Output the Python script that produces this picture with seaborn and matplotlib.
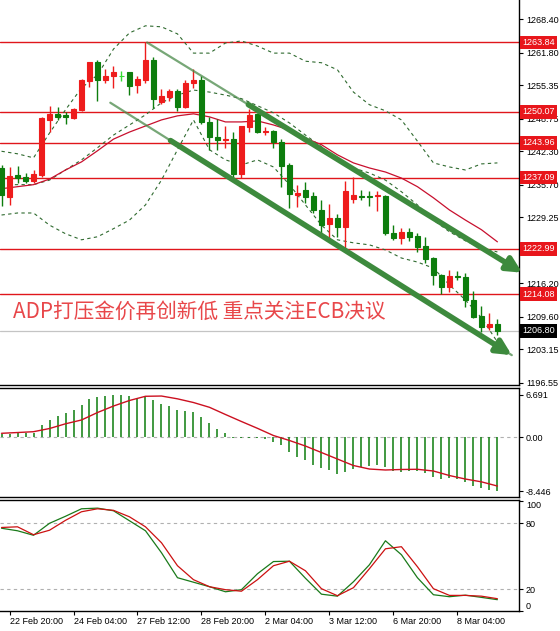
import numpy as np
import pandas as pd
import matplotlib
matplotlib.use("Agg")
import matplotlib.pyplot as plt
import seaborn as sns

sns.set_theme(style="white")
plt.rcParams['font.family'] = ['Liberation Sans', 'DejaVu Sans']

# ---- H4 candles (gold) ----
opens = [1238.9, 1233.3, 1237.6, 1237.2, 1236.5, 1237.6, 1248.5, 1249.7, 1249.4, 1248.8,
         1250.5, 1256.1, 1260.0, 1256.4, 1257.2, 1257.1, 1257.9, 1255.3, 1256.4, 1260.4,
         1252.1, 1253.1, 1254.3, 1251.0, 1255.8, 1256.4, 1248.1, 1245.2, 1244.5, 1244.7,
         1237.9, 1247.1, 1249.7, 1246.2, 1246.4, 1244.2, 1239.6, 1233.7, 1234.6, 1233.5,
         1230.7, 1227.9, 1229.2, 1227.3, 1232.8, 1233.5, 1233.5, 1233.4, 1233.5, 1226.2,
         1225.1, 1226.4, 1225.6, 1223.6, 1221.3, 1217.9, 1215.5, 1217.7, 1217.4, 1213.0,
         1209.7, 1207.5, 1208.2]
highs = [1239.5, 1239.1, 1239.3, 1238.0, 1238.5, 1249.0, 1251.3, 1251.1, 1250.1, 1250.9,
         1256.5, 1260.0, 1260.4, 1258.5, 1259.2, 1258.2, 1258.0, 1257.1, 1263.84, 1260.9,
         1254.6, 1254.6, 1254.6, 1256.4, 1258.5, 1257.1, 1249.1, 1248.7, 1247.3, 1246.1,
         1247.2, 1250.6, 1249.9, 1247.0, 1246.6, 1244.7, 1239.9, 1235.6, 1236.3, 1234.3,
         1232.7, 1231.9, 1229.9, 1236.5, 1237.2, 1234.7, 1234.5, 1234.5, 1233.6, 1227.7,
         1227.1, 1227.1, 1226.2, 1225.4, 1221.4, 1218.0, 1218.8, 1218.7, 1218.3, 1214.7,
         1211.7, 1210.3, 1209.1]
lows = [1231.4, 1231.7, 1236.0, 1236.0, 1236.1, 1237.2, 1246.2, 1248.4, 1247.7, 1248.7,
        1250.3, 1255.1, 1252.3, 1255.8, 1254.9, 1256.1, 1253.4, 1253.8, 1255.8, 1250.8,
        1251.7, 1252.3, 1250.3, 1250.8, 1254.9, 1247.7, 1242.6, 1242.6, 1242.9, 1237.1,
        1237.0, 1246.2, 1245.9, 1245.5, 1242.9, 1235.3, 1231.0, 1231.2, 1232.0, 1230.0,
        1226.0, 1224.8, 1225.4, 1223.0, 1232.0, 1232.7, 1231.4, 1230.4, 1225.8, 1224.8,
        1224.0, 1224.6, 1222.3, 1220.2, 1215.9, 1214.1, 1214.5, 1216.8, 1211.5, 1209.3,
        1206.6, 1207.0, 1206.0]
closes = [1233.7, 1237.4, 1237.0, 1236.5, 1237.8, 1248.8, 1249.7, 1249.1, 1249.0, 1250.6,
          1256.3, 1259.9, 1256.4, 1257.1, 1257.9, 1257.1, 1255.2, 1256.6, 1260.4, 1252.6,
          1253.2, 1254.3, 1251.0, 1255.8, 1256.4, 1248.1, 1245.1, 1244.5, 1244.8, 1237.8,
          1247.2, 1249.4, 1246.2, 1246.4, 1244.1, 1239.3, 1233.9, 1234.1, 1233.3, 1230.6,
          1227.7, 1229.2, 1227.3, 1234.5, 1233.7, 1233.3, 1233.2, 1233.6, 1226.1, 1225.1,
          1226.4, 1225.4, 1223.4, 1221.1, 1217.9, 1215.5, 1217.7, 1217.4, 1212.9, 1209.6,
          1207.6, 1208.2, 1206.8]

# indicator lines, read every second candle
line_idx = list(range(0, 63, 2))
ma_red = [1234.9, 1235.3, 1235.7, 1236.8, 1238.6, 1240.2, 1242.4, 1244.7, 1246.1, 1247.3,
          1248.5, 1249.3, 1249.7, 1249.1, 1248.1, 1248.1, 1248.3, 1247.5, 1246.5, 1244.9,
          1243.6, 1241.6, 1240.0, 1239.0, 1238.2, 1237.0, 1235.3, 1233.1, 1230.7, 1228.7,
          1226.8, 1224.4]
bb_upper = [1242.3, 1241.8, 1241.0, 1245.9, 1250.5, 1254.8, 1257.4, 1262.5, 1265.7, 1267.1,
            1266.9, 1265.5, 1261.7, 1261.7, 1263.7, 1264.1, 1263.1, 1261.7, 1261.7, 1260.1,
            1259.8, 1258.4, 1254.0, 1251.5, 1250.3, 1248.5, 1244.3, 1240.0, 1239.2, 1238.6,
            1239.8, 1240.0]
bb_mid = [1235.7, 1235.7, 1235.7, 1236.6, 1238.6, 1240.6, 1243.0, 1245.5, 1247.5, 1249.5,
          1251.9, 1253.4, 1254.4, 1254.0, 1253.4, 1252.7, 1251.3, 1249.9, 1247.9, 1245.5,
          1243.2, 1240.6, 1239.0, 1238.0, 1236.6, 1234.3, 1231.7, 1228.7, 1226.4, 1224.6,
          1223.2, 1222.4]
bb_lower = [1229.7, 1230.1, 1230.1, 1227.7, 1226.0, 1224.8, 1225.4, 1227.0, 1228.7, 1231.7,
            1236.6, 1242.6, 1248.5, 1242.6, 1240.6, 1239.6, 1240.6, 1239.2, 1235.7, 1231.7,
            1227.7, 1224.8, 1224.2, 1223.8, 1222.8, 1221.2, 1220.4, 1219.2, 1215.9, 1212.9,
            1209.4, 1204.6]

levels = [1263.84, 1250.07, 1243.96, 1237.09, 1222.99, 1214.08]
last_price = 1206.80
price_ticks = [1268.40, 1261.80, 1255.35, 1248.75, 1242.30, 1235.70, 1229.25, 1222.65,
               1216.20, 1209.60, 1203.15, 1196.55]

# channel lines (candle index, price)
trend_upper = [(18.2, 1263.8), (65.1, 1218.3)]
trend_lower = [(13.6, 1251.9), (63.8, 1202.0)]

# ---- MACD ----
macd_hist = [0.52, 0.47, 0.63, 0.63, 0.63, 1.94, 2.72, 3.35, 3.77, 4.29,
             5.08, 5.97, 6.39, 6.49, 6.60, 6.69, 6.50, 6.12, 6.39, 5.86,
             5.23, 4.92, 4.29, 4.19, 4.03, 3.14, 2.30, 1.26, 0.73, -0.05,
             -0.15, -0.10, -0.15, -0.30, -0.68, -1.20, -2.25, -3.03, -3.56, -4.34,
             -4.87, -5.13, -5.76, -5.39, -5.02, -4.71, -4.50, -4.34, -4.71, -5.23,
             -5.39, -5.23, -5.23, -5.65, -6.17, -6.59, -6.44, -6.59, -6.96, -7.64,
             -8.00, -8.20, -8.45]
macd_signal = [0.63, 0.75, 0.88, 1.38, 2.12, 2.72, 3.89, 4.91, 5.78, 6.44,
               6.48, 6.04, 5.46, 4.71, 3.58, 2.48, 1.41, 0.28, -0.50, -1.37,
               -2.39, -3.41, -4.43, -4.98, -5.13, -5.05, -5.02, -5.29, -6.00, -6.55,
               -6.99, -7.65]

# ---- Stochastic ----
stoch_k = [75.3, 73.0, 68.9, 79.8, 86.2, 93.0, 93.6, 91.2, 82.1, 73.0,
           53.0, 30.3, 26.2, 22.1, 17.5, 19.4, 33.9, 45.0, 45.3, 29.8,
           15.3, 13.5, 26.6, 42.1, 63.9, 51.2, 30.3, 14.8, 13.0, 14.4,
           12.4, 10.3]
stoch_d = [76.0, 76.6, 69.4, 73.5, 82.5, 90.3, 93.0, 91.6, 85.7, 76.6,
           62.1, 41.2, 28.5, 22.1, 19.4, 18.0, 28.5, 41.2, 45.3, 36.6,
           20.3, 13.9, 21.2, 38.5, 56.6, 58.5, 40.3, 20.3, 14.2, 14.2,
           13.5, 11.2]

time_idx = [1, 9, 17, 25, 33, 41, 49, 57]
time_labels = ["22 Feb 20:00", "24 Feb 04:00", "27 Feb 12:00", "28 Feb 20:00",
               "2 Mar 04:00", "3 Mar 12:00", "6 Mar 20:00", "8 Mar 04:00"]

RED = "#ee1c1c"
GREEN = "#0d7d0d"
LIME = "#33dd33"
LEVEL_RED = "#e0161b"

df = pd.DataFrame({"o": opens, "h": highs, "l": lows, "c": closes})
df["x"] = np.arange(len(df))
df["color"] = np.where(df.c > df.o, RED, np.where(df.c < df.o, GREEN, LIME))

W, H = 560, 631
fig = plt.figure(figsize=(W / 100, H / 100), dpi=100)


def panel(top, bottom):
    return fig.add_axes([0, 1 - bottom / H, 519 / W, (bottom - top) / H])


ax = panel(0, 385)
ax_macd = panel(388, 497)
ax_sto = panel(500, 611)

for a in (ax, ax_macd, ax_sto):
    a.set_facecolor("white")
    a.set_xlim(-0.19, 64.7)
    a.spines["left"].set_visible(False)
    for s in ("right", "bottom", "top"):
        a.spines[s].set_color("black")
        a.spines[s].set_linewidth(1.0)
    a.yaxis.tick_right()
    a.tick_params(axis="y", direction="out", length=3, width=0.8, labelsize=6.5,
                  pad=2, colors="black", right=True, left=False)
    a.tick_params(axis="x", bottom=False, labelbottom=False)
    a.grid(False)
ax.spines["top"].set_visible(False)

# ---- main price panel ----
ax.set_ylim(1196.1, 1272.2)
ax.set_yticks(price_ticks)
# the 1222.65 label sits under the 1222.99 level box in the original
ax.set_yticklabels(["" if v == 1222.65 else f"{v:.2f}" for v in price_ticks])

for lvl in levels:
    ax.axhline(lvl, color=LEVEL_RED, lw=1.0, zorder=1)
ax.axhline(last_price, color="#c4c4c4", lw=0.9, zorder=1)

sns.lineplot(x=line_idx, y=bb_upper, ax=ax, color="#2f6a2f", lw=0.8, linestyle=(0, (3, 3)))
sns.lineplot(x=line_idx, y=bb_mid, ax=ax, color="#2f6a2f", lw=0.8, linestyle=(0, (3, 3)))
sns.lineplot(x=line_idx, y=bb_lower, ax=ax, color="#2f6a2f", lw=0.8, linestyle=(0, (3, 3)))
sns.lineplot(x=line_idx, y=ma_red, ax=ax, color="#c8102e", lw=0.9)

ax.vlines(df.x, df.l, df.h, colors=df.color, lw=1.0, zorder=3)
ax.bar(df.x, (df.c - df.o).abs(), bottom=df[["o", "c"]].min(axis=1), width=0.55,
       color=df.color, edgecolor=df.color, linewidth=0.8, zorder=4)

# channel lines with arrows
for (p0, p1), t0 in ((trend_upper, 0.27), (trend_lower, 0.15)):
    ax.plot([p0[0], p1[0]], [p0[1], p1[1]], color="#4a8a4a", lw=1.6, alpha=0.75, zorder=5)
    sx = p0[0] + (p1[0] - p0[0]) * t0
    sy = p0[1] + (p1[1] - p0[1]) * t0
    ax.annotate("", xy=p1, xytext=(sx, sy), annotation_clip=False,
                arrowprops=dict(arrowstyle="-|>", lw=4, color="#3d8a3d",
                                mutation_scale=22, shrinkA=0, shrinkB=0),
                zorder=6)

ax.text(0.025, 0.19, "ADP打压金价再创新低 重点关注ECB决议", transform=ax.transAxes,
        fontsize=14.9, color="#e8474a", va="center", ha="left",
        family=["Noto Sans CJK SC", "DejaVu Sans"])

for lvl in levels:
    ax.text(1.006, lvl, f"{lvl:.2f}", transform=ax.get_yaxis_transform(), ha="left",
            va="center", fontsize=6.5, color="white", clip_on=False, zorder=10,
            bbox=dict(boxstyle="square,pad=0.25", fc="#e8161b", ec="none"))
ax.text(1.006, last_price, f"{last_price:.2f}", transform=ax.get_yaxis_transform(),
        ha="left", va="center", fontsize=6.5, color="white", clip_on=False, zorder=10,
        bbox=dict(boxstyle="square,pad=0.25", fc="black", ec="none"))

# ---- MACD panel ----
ax_macd.set_ylim(-9.37, 7.74)
ax_macd.axhline(0, color="#b0b0b0", lw=0.8, ls=(0, (3, 3)))
ax_macd.vlines(np.arange(len(macd_hist)), 0, macd_hist, colors=GREEN, lw=1.1)
sns.lineplot(x=line_idx, y=macd_signal, ax=ax_macd, color="#cc1020", lw=1.0)
ax_macd.set_yticks([6.691, 0.0, -8.446])
ax_macd.set_yticklabels(["6.691", "0.00", "-8.446"])

# ---- Stochastic panel ----
ax_sto.set_ylim(0, 101)
ax_sto.axhline(80, color="#b0b0b0", lw=0.8, ls=(0, (3, 3)))
ax_sto.axhline(20, color="#b0b0b0", lw=0.8, ls=(0, (3, 3)))
sns.lineplot(x=line_idx, y=stoch_k, ax=ax_sto, color="#1a7a1a", lw=0.9)
sns.lineplot(x=line_idx, y=stoch_d, ax=ax_sto, color="#cc1111", lw=0.9)
ax_sto.set_yticks([100, 80, 20, 0])
ax_sto.set_yticklabels(["100", "80", "20", "0"])
lab = ax_sto.get_yticklabels()
lab[0].set_va("top")
lab[3].set_va("bottom")

ax_sto.set_xticks(time_idx)
ax_sto.set_xticklabels(time_labels)
ax_sto.tick_params(axis="x", bottom=True, labelbottom=True, direction="out", length=3,
                   width=0.8, labelsize=6.5, pad=1.5, colors="black")
for t in ax_sto.get_xticklabels():
    t.set_ha("left")

for a in (ax, ax_macd, ax_sto):
    a.set_xlabel("")
    a.set_ylabel("")

fig.savefig("out.png", dpi=100, facecolor="white")
